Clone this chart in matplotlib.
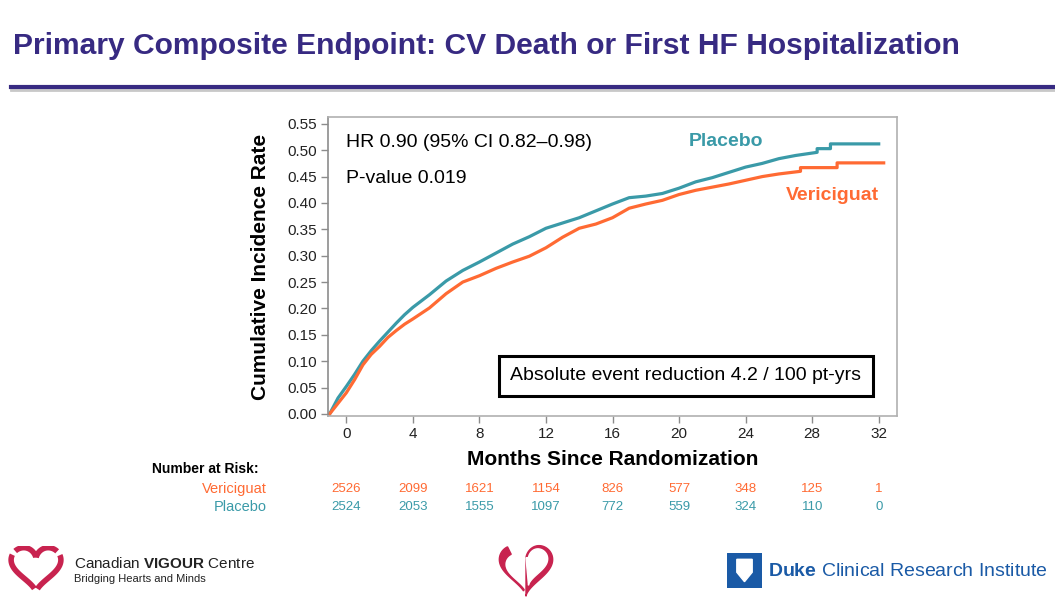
import matplotlib
matplotlib.use('Agg')
import matplotlib.pyplot as plt
import numpy as np
from matplotlib.patches import Rectangle, Polygon

plt.rcParams['font.family'] = ['Liberation Sans', 'DejaVu Sans']
plt.rcParams['mathtext.fontset'] = 'custom'
plt.rcParams['mathtext.rm'] = 'Liberation Sans'
plt.rcParams['mathtext.bf'] = 'Liberation Sans:bold'

# Kaplan-Meier style cumulative incidence
placebo_months = [-1, -0.5, 0, 0.5, 1, 1.5, 2, 2.5, 3, 3.5, 4, 5, 6, 7, 8, 9, 10,
                  11, 12, 13, 14, 15, 16, 17, 18, 19, 20, 21, 22, 23, 24, 25, 26,
                  27, 28.3, 28.3, 29.1, 29.1, 32]
placebo_rate = [0.0, 0.03, 0.052, 0.075, 0.10, 0.12, 0.138, 0.155, 0.172, 0.188,
                0.202, 0.226, 0.252, 0.272, 0.288, 0.305, 0.322, 0.336, 0.352,
                0.362, 0.372, 0.385, 0.398, 0.41, 0.413, 0.418, 0.428, 0.44,
                0.448, 0.458, 0.468, 0.475, 0.484, 0.49, 0.496, 0.503, 0.503,
                0.512, 0.512]

veri_months = [-1, -0.5, 0, 0.5, 1, 1.5, 2, 2.5, 3, 3.5, 4, 5, 6, 7, 8, 9, 10,
               11, 12, 13, 14, 15, 16, 17, 18, 19, 20, 21, 22, 23, 24, 25, 26,
               27.3, 27.3, 29.5, 29.5, 32.3]
veri_rate = [0.0, 0.02, 0.04, 0.065, 0.093, 0.113, 0.128, 0.145, 0.158, 0.17,
             0.18, 0.201, 0.228, 0.25, 0.262, 0.276, 0.288, 0.299, 0.315, 0.335,
             0.352, 0.36, 0.372, 0.39, 0.398, 0.405, 0.416, 0.424, 0.43, 0.436,
             0.443, 0.45, 0.455, 0.46, 0.467, 0.467, 0.476, 0.476]

risk_months = [0, 4, 8, 12, 16, 20, 24, 28, 32]
risk_veri = [2526, 2099, 1621, 1154, 826, 577, 348, 125, 1]
risk_placebo = [2524, 2053, 1555, 1097, 772, 559, 324, 110, 0]

teal = '#3a9aa8'
orange = '#ff6a33'
purple = '#372a82'

fig = plt.figure(figsize=(10.55, 6.02), dpi=100)

# title and rule
fig.text(13 / 1055, 1 - 46 / 602, 'Primary Composite Endpoint: CV Death or First HF Hospitalization',
         fontsize=21.6, fontweight='bold', color=purple, va='center', ha='left')
fig.add_artist(plt.Line2D([11 / 1055, 1], [1 - 90 / 602, 1 - 90 / 602], color='#c8c8c8', lw=2))
fig.add_artist(plt.Line2D([11 / 1055, 1], [1 - 87 / 602, 1 - 87 / 602], color=purple, lw=3))

ax = fig.add_axes([328 / 1055, 1 - 416 / 602, 569 / 1055, 299 / 602])
ax.plot(placebo_months, placebo_rate, color=teal, lw=2.3)
ax.plot(veri_months, veri_rate, color=orange, lw=2.3)

ax.set_xlim(-1.1, 33.1)
ax.set_ylim(-0.004, 0.563)
ax.set_xticks(risk_months)
ax.set_yticks(np.arange(0, 0.56, 0.05))
ax.set_yticklabels([f'{v:.2f}' for v in np.arange(0, 0.56, 0.05)])
for s in ax.spines.values():
    s.set_color('#b0b0b0')
    s.set_linewidth(1.2)
ax.spines['left'].set_color('#8c8c8c')
ax.tick_params(direction='out', length=5, width=1, color='#8c8c8c',
               labelsize=11, labelcolor='#222222', pad=3)

ax.text(-0.119, 0.5, 'Cumulative Incidence Rate', transform=ax.transAxes, rotation=90,
        fontsize=15, fontweight='bold', ha='center', va='center')
ax.text(0.5, -0.147, 'Months Since Randomization', transform=ax.transAxes,
        fontsize=15, fontweight='bold', ha='center', va='center')

ax.text(0, 0.514, 'HR 0.90 (95% CI 0.82\u20130.98)', fontsize=14, va='center', ha='left')
ax.text(0, 0.446, 'P-value 0.019', fontsize=14, va='center', ha='left')
ax.text(22.8, 0.516, 'Placebo', fontsize=14, fontweight='bold', color=teal, ha='center', va='center')
ax.text(29.2, 0.414, 'Vericiguat', fontsize=14, fontweight='bold', color=orange, ha='center', va='center')
ax.text(20.4, 0.072, 'Absolute event reduction 4.2 / 100 pt-yrs', fontsize=14, ha='center', va='center',
        bbox=dict(boxstyle='square,pad=0.6', fc='white', ec='black', lw=2.2))

# number at risk table
tr = ax.get_xaxis_transform()
fig.text(152 / 1055, 1 - 469 / 602, 'Number at Risk:', fontsize=10, fontweight='bold', va='center')
fig.text(267 / 1055, 1 - 489 / 602, 'Vericiguat', fontsize=10.5, color=orange, ha='right', va='center')
fig.text(267 / 1055, 1 - 507 / 602, 'Placebo', fontsize=10.5, color=teal, ha='right', va='center')
for m, v, p in zip(risk_months, risk_veri, risk_placebo):
    ax.text(m, -0.244, str(v), transform=tr, fontsize=9.5, color=orange, ha='center', va='center')
    ax.text(m, -0.304, str(p), transform=tr, fontsize=9.5, color=teal, ha='center', va='center')

# logos (simple sketches)
crimson = '#c8234f'
t = np.linspace(0, 2 * np.pi, 400)
hx = 16 * np.sin(t) ** 3
hy = 13 * np.cos(t) - 5 * np.cos(2 * t) - 2 * np.cos(3 * t) - np.cos(4 * t)

lg = fig.add_axes([8 / 1055, 1 - 594 / 602, 56 / 1055, 48 / 602])
lg.axis('off')
for a, b in [(0.15, 1.25), (1.4, 2.75), (3.55, 4.9), (5.05, 6.1)]:
    k = (t >= a) & (t <= b)
    lg.plot(hx[k], hy[k], color=crimson, lw=4, solid_capstyle='butt')
lg.set_xlim(-18, 18)
lg.set_ylim(-18, 13)

fig.text(74 / 1055, 1 - 563 / 602, r'Canadian $\mathbf{VIGOUR}$ Centre', fontsize=11,
         va='center', color='#222222')
fig.text(74 / 1055, 1 - 579 / 602, 'Bridging Hearts and Minds', fontsize=8, va='center', color='#222222')

cg = fig.add_axes([496 / 1055, 1 - 598 / 602, 60 / 1055, 56 / 602])
cg.axis('off')
k = (t >= 0.0) & (t <= np.pi)
cg.fill(np.r_[hx[k], 0.0], np.r_[hy[k], 5.0], color=crimson)
cg.fill(np.r_[hx[k] * 0.72 + 1.5, 0.0], np.r_[hy[k] * 0.72 + 1.5, 5.0], color='white')
k2 = (t >= 3.6) & (t <= 5.2)
cg.fill(np.r_[hx[k2], hx[k2][::-1] * 0.8], np.r_[hy[k2], hy[k2][::-1] * 0.8 - 2], color=crimson)
cg.set_xlim(-18, 18)
cg.set_ylim(-18, 14)

dk = fig.add_axes([727 / 1055, 1 - 588 / 602, 35 / 1055, 35 / 602])
dk.axis('off')
dk.add_patch(Rectangle((0, 0), 1, 1, color='#1a5aa6'))
dk.add_patch(Polygon([(0.28, 0.82), (0.72, 0.82), (0.72, 0.45), (0.5, 0.18), (0.28, 0.45)],
                     closed=True, color='white'))
dk.set_xlim(0, 1)
dk.set_ylim(0, 1)
fig.text(768 / 1055, 1 - 571 / 602, r'$\mathbf{Duke}$ Clinical Research Institute', fontsize=14,
         va='center', color='#1a5aa6')

fig.savefig('out.png', dpi=100)
